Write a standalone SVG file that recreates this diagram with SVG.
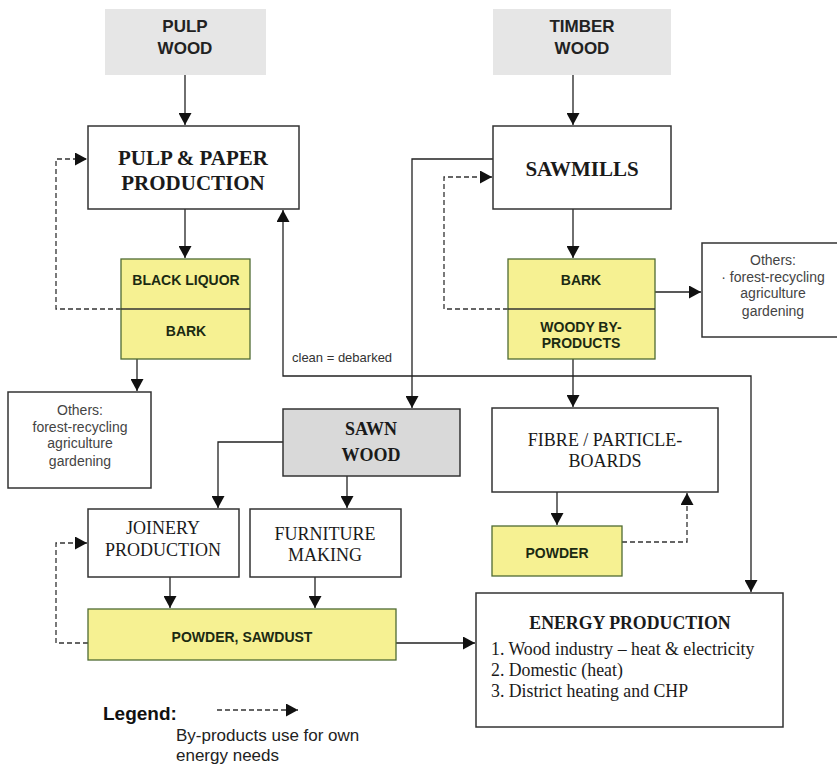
<svg xmlns="http://www.w3.org/2000/svg" width="837" height="766" viewBox="0 0 837 766">
<style>
.box{fill:#fff;stroke:#333;stroke-width:1.5}
.gray{fill:#e6e6e6;stroke:none}
.sawn{fill:#d9d9d9;stroke:#333;stroke-width:1.5}
.yel{fill:#f6f192;stroke:#4f6b33;stroke-width:1.3}
.ln{fill:none;stroke:#222;stroke-width:1.3}
.dash{fill:none;stroke:#333;stroke-width:1.3;stroke-dasharray:5 3}
.sb{font-family:"Liberation Sans",Arial,sans-serif;font-weight:bold;text-anchor:middle}
.tb{font-family:"Liberation Serif","Times New Roman",serif;font-weight:bold;text-anchor:middle;fill:#1a1a1a}
.tr{font-family:"Liberation Serif","Times New Roman",serif;text-anchor:middle;fill:#1a1a1a}
.yt{font-family:"Liberation Sans",Arial,sans-serif;font-weight:bold;text-anchor:middle;font-size:14px;fill:#1b2a12}
.ot{font-family:"Liberation Sans",Arial,sans-serif;text-anchor:middle;font-size:14px;fill:#444}
.el{font-family:"Liberation Serif","Times New Roman",serif;font-size:17.8px;fill:#1a1a1a}
</style>
<defs>
<marker id="ah" markerUnits="userSpaceOnUse" markerWidth="13" markerHeight="13" refX="12" refY="6.5" orient="auto" viewBox="0 0 13 13">
<path d="M0,0 L12,6.5 L0,13 z" fill="#111"/>
</marker>
</defs>
<rect width="837" height="766" fill="#fff"/>

<g id="connectors">
<path class="ln" d="M185,75 V125" marker-end="url(#ah)"/>
<path class="ln" d="M185,209 V258" marker-end="url(#ah)"/>
<path class="ln" d="M137,359 V391" marker-end="url(#ah)"/>
<path class="dash" d="M121,309 H56 V159 H87" marker-end="url(#ah)"/>
<path class="ln" d="M573,75 V125" marker-end="url(#ah)"/>
<path class="ln" d="M573,209 V258" marker-end="url(#ah)"/>
<path class="ln" d="M655,292 H701" marker-end="url(#ah)"/>
<path class="dash" d="M508,309 H444 V177 H492" marker-end="url(#ah)"/>
<path class="ln" d="M493,159 H412 V408" marker-end="url(#ah)"/>
<path class="ln" d="M573,359 V407" marker-end="url(#ah)"/>
<path class="ln" d="M573,376 H283 V210" marker-end="url(#ah)"/>
<path class="ln" d="M573,376 H751 V592" marker-end="url(#ah)"/>
<path class="ln" d="M283,442 H218 V508" marker-end="url(#ah)"/>
<path class="ln" d="M347,476 V508" marker-end="url(#ah)"/>
<path class="ln" d="M170,577 V608" marker-end="url(#ah)"/>
<path class="ln" d="M315,577 V608" marker-end="url(#ah)"/>
<path class="ln" d="M396,643 H475" marker-end="url(#ah)"/>
<path class="dash" d="M88,643 H56 V543 H87" marker-end="url(#ah)"/>
<path class="ln" d="M557,492 V525" marker-end="url(#ah)"/>
<path class="dash" d="M622,542 H687 V493" marker-end="url(#ah)"/>
</g>

<g id="pulp-wood">
<rect class="gray" x="105" y="9" width="161" height="66"/>
<text class="sb" x="185" y="32" font-size="17" fill="#222">PULP</text>
<text class="sb" x="185" y="54" font-size="17" fill="#222">WOOD</text>
</g>

<g id="pulp-paper">
<rect class="box" x="88" y="126" width="211" height="83"/>
<text class="tb" x="193" y="165" font-size="21">PULP &amp; PAPER</text>
<text class="tb" x="193" y="190" font-size="21">PRODUCTION</text>
</g>

<g id="black-liquor-bark">
<rect class="yel" x="121" y="259" width="129" height="100"/>
<line x1="121" y1="309" x2="250" y2="309" stroke="#333" stroke-width="1.3"/>
<text class="yt" x="186" y="285">BLACK LIQUOR</text>
<text class="yt" x="186" y="336">BARK</text>
</g>

<g id="others-left">
<rect class="box" x="8" y="392" width="143" height="96"/>
<text class="ot" x="80" y="415">Others:</text>
<text class="ot" x="80" y="432">forest-recycling</text>
<text class="ot" x="80" y="448">agriculture</text>
<text class="ot" x="80" y="466">gardening</text>
</g>

<g id="timber-wood">
<rect class="gray" x="493" y="9" width="178" height="66"/>
<text class="sb" x="582" y="32" font-size="17" fill="#222">TIMBER</text>
<text class="sb" x="582" y="54" font-size="17" fill="#222">WOOD</text>
</g>

<g id="sawmills">
<rect class="box" x="493" y="126" width="178" height="83"/>
<text class="tb" x="582" y="176" font-size="21">SAWMILLS</text>
</g>

<g id="bark-woody">
<rect class="yel" x="508" y="259" width="147" height="100"/>
<line x1="508" y1="309" x2="655" y2="309" stroke="#333" stroke-width="1.3"/>
<text class="yt" x="581" y="285">BARK</text>
<text class="yt" x="581" y="332">WOODY BY-</text>
<text class="yt" x="581" y="348">PRODUCTS</text>
</g>

<g id="others-right">
<rect class="box" x="702" y="243" width="140" height="94"/>
<text class="ot" x="773" y="265">Others:</text>
<text class="ot" x="773" y="282">· forest-recycling</text>
<text class="ot" x="773" y="298">agriculture</text>
<text class="ot" x="773" y="316">gardening</text>
</g>

<text x="292" y="362" font-family="Liberation Sans, Arial, sans-serif" font-size="13" fill="#333">clean = debarked</text>

<g id="sawn-wood">
<rect class="sawn" x="283" y="409" width="177" height="67"/>
<text class="tb" x="371" y="435" font-size="18">SAWN</text>
<text class="tb" x="371" y="461" font-size="18">WOOD</text>
</g>

<g id="fibre-boards">
<rect class="box" x="492" y="408" width="226" height="84"/>
<text class="tr" x="605" y="446" font-size="18">FIBRE / PARTICLE-</text>
<text class="tr" x="605" y="467" font-size="18">BOARDS</text>
</g>

<g id="powder">
<rect class="yel" x="492" y="526" width="130" height="50"/>
<text class="yt" x="557" y="558">POWDER</text>
</g>

<g id="joinery">
<rect class="box" x="88" y="509" width="151" height="68"/>
<text class="tr" x="163" y="534" font-size="18">JOINERY</text>
<text class="tr" x="163" y="556" font-size="18">PRODUCTION</text>
</g>

<g id="furniture">
<rect class="box" x="250" y="509" width="151" height="68"/>
<text class="tr" x="325" y="540" font-size="18">FURNITURE</text>
<text class="tr" x="325" y="561" font-size="18">MAKING</text>
</g>

<g id="powder-sawdust">
<rect class="yel" x="88" y="609" width="308" height="51"/>
<text class="yt" x="242" y="642">POWDER, SAWDUST</text>
</g>

<g id="energy-production">
<rect class="box" x="476" y="593" width="307" height="134"/>
<text class="tb" x="630" y="629" font-size="17.8">ENERGY PRODUCTION</text>
<text class="el" x="491" y="655">1. Wood industry – heat &amp; electricity</text>
<text class="el" x="491" y="676">2. Domestic (heat)</text>
<text class="el" x="491" y="697">3. District heating and CHP</text>
</g>

<g id="legend">
<text x="103" y="720" font-family="Liberation Sans, Arial, sans-serif" font-weight="bold" font-size="19" fill="#111">Legend:</text>
<path class="dash" d="M217,710 H298" marker-end="url(#ah)"/>
<text x="176" y="741" font-family="Liberation Sans, Arial, sans-serif" font-size="17" fill="#222">By-products use for own</text>
<text x="176" y="761" font-family="Liberation Sans, Arial, sans-serif" font-size="17" fill="#222">energy needs</text>
</g>
</svg>
